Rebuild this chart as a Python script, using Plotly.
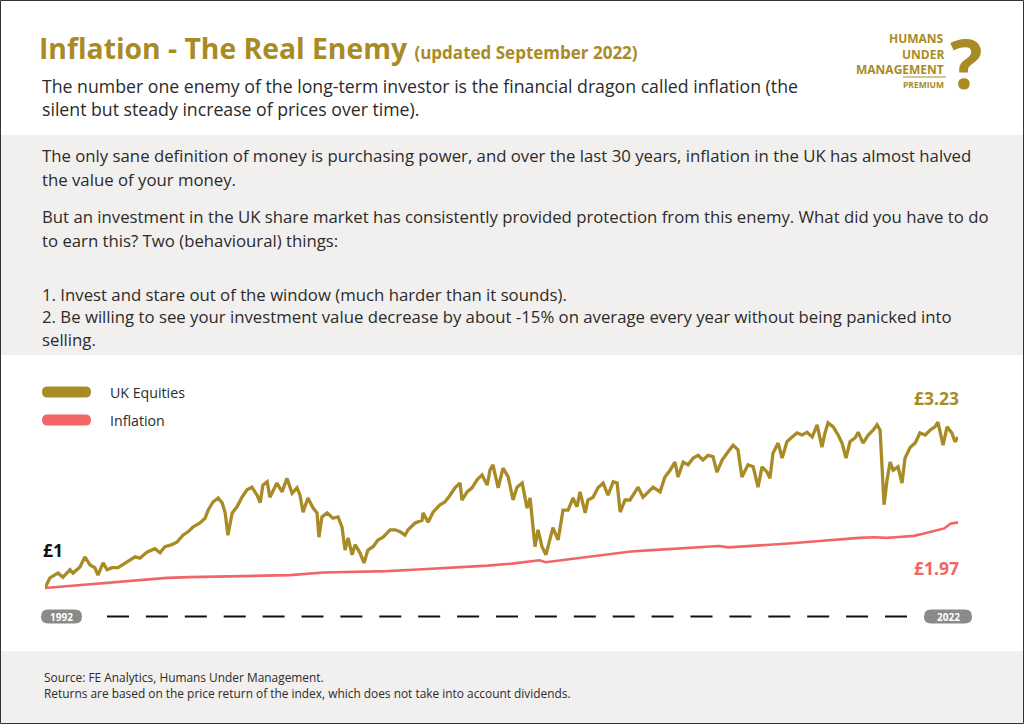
import plotly.graph_objects as go

# ---------------- DATA ----------------
eq_year = [1992.75, 1992.91, 1993.18, 1993.34, 1993.57, 1993.67, 1993.90, 1994.06, 1994.23, 1994.39,
           1994.49, 1994.66, 1994.79, 1994.95, 1995.15, 1995.44, 1995.71, 1995.87, 1996.10, 1996.36,
           1996.53, 1996.69, 1996.92, 1997.09, 1997.28, 1997.45, 1997.61, 1997.84, 1998.01, 1998.11,
           1998.27, 1998.44, 1998.57, 1998.67, 1998.76, 1998.90, 1999.06, 1999.22, 1999.39, 1999.55,
           1999.72, 1999.82, 1999.91, 2000.05, 2000.14, 2000.37, 2000.54, 2000.70, 2000.87, 2001.03,
           2001.13, 2001.23, 2001.39, 2001.56, 2001.69, 2001.75, 2001.85, 2002.02, 2002.21, 2002.38,
           2002.51, 2002.61, 2002.71, 2002.84, 2002.94, 2003.10, 2003.23, 2003.36, 2003.53, 2003.69,
           2003.86, 2004.09, 2004.25, 2004.42, 2004.58, 2004.68, 2004.91, 2005.14, 2005.17, 2005.34,
           2005.50, 2005.73, 2005.89, 2006.06, 2006.22, 2006.39, 2006.45, 2006.62, 2006.78, 2006.95,
           2007.11, 2007.28, 2007.37, 2007.47, 2007.64, 2007.80, 2007.97, 2008.13, 2008.26, 2008.43,
           2008.59, 2008.69, 2008.85, 2008.95, 2009.08, 2009.21, 2009.35, 2009.44, 2009.61, 2009.77,
           2009.94, 2010.10, 2010.23, 2010.33, 2010.50, 2010.59, 2010.76, 2010.92, 2011.09, 2011.25,
           2011.42, 2011.55, 2011.65, 2011.81, 2011.97, 2012.24, 2012.40, 2012.57, 2012.73, 2012.96,
           2013.12, 2013.29, 2013.45, 2013.55, 2013.72, 2013.88, 2014.05, 2014.21, 2014.37, 2014.54,
           2014.70, 2014.83, 2015.00, 2015.19, 2015.36, 2015.52, 2015.65, 2015.85, 2016.02, 2016.18,
           2016.31, 2016.48, 2016.57, 2016.67, 2016.84, 2016.97, 2017.13, 2017.30, 2017.46, 2017.63,
           2017.79, 2017.96, 2018.12, 2018.28, 2018.38, 2018.48, 2018.65, 2018.81, 2018.94, 2019.07,
           2019.20, 2019.37, 2019.47, 2019.63, 2019.80, 2019.96, 2020.09, 2020.19, 2020.32, 2020.42,
           2020.52, 2020.62, 2020.78, 2020.91, 2021.01, 2021.18, 2021.34, 2021.50, 2021.67, 2021.83,
           2021.99, 2022.09, 2022.26, 2022.39, 2022.55, 2022.65, 2022.75]
uk_equities = [1.00, 1.15, 1.22, 1.16, 1.27, 1.22, 1.31, 1.46, 1.34, 1.30,
               1.19, 1.37, 1.27, 1.30, 1.30, 1.38, 1.46, 1.44, 1.53, 1.58,
               1.52, 1.61, 1.64, 1.68, 1.78, 1.83, 1.90, 1.96, 2.03, 2.15,
               2.27, 2.33, 2.26, 2.11, 1.78, 2.11, 2.20, 2.34, 2.45, 2.49,
               2.37, 2.26, 2.52, 2.57, 2.34, 2.55, 2.42, 2.62, 2.40, 2.48,
               2.37, 2.12, 2.33, 2.18, 2.11, 1.75, 2.05, 2.11, 2.03, 2.05,
               1.90, 1.56, 1.74, 1.49, 1.64, 1.52, 1.37, 1.56, 1.61, 1.71,
               1.75, 1.86, 1.86, 1.83, 1.78, 1.86, 1.96, 2.00, 2.11, 1.97,
               2.12, 2.23, 2.27, 2.37, 2.48, 2.55, 2.30, 2.42, 2.48, 2.60,
               2.67, 2.52, 2.74, 2.82, 2.48, 2.77, 2.64, 2.30, 2.49, 2.55,
               2.18, 2.33, 1.61, 1.86, 1.61, 1.49, 1.71, 1.89, 1.71, 2.15,
               2.15, 2.33, 2.20, 2.42, 2.11, 2.30, 2.34, 2.48, 2.55, 2.37,
               2.57, 2.55, 2.12, 2.30, 2.30, 2.49, 2.34, 2.42, 2.49, 2.42,
               2.64, 2.74, 2.86, 2.64, 2.86, 2.82, 2.92, 2.96, 2.89, 2.96,
               2.94, 2.71, 2.89, 3.01, 3.11, 3.04, 2.64, 2.82, 2.79, 2.49,
               2.79, 2.71, 2.62, 2.99, 3.14, 2.92, 3.16, 3.23, 3.29, 3.26,
               3.30, 3.23, 3.41, 3.08, 3.29, 3.44, 3.38, 3.26, 3.14, 2.92,
               3.16, 3.22, 3.30, 3.14, 3.26, 3.33, 3.41, 3.33, 2.23, 2.60,
               2.86, 2.74, 2.79, 2.55, 2.92, 3.08, 3.14, 3.29, 3.26, 3.33,
               3.38, 3.45, 3.11, 3.38, 3.29, 3.16, 3.23]

inf_year = [1992.75, 1993.5, 1994.5, 1995.12, 1996.0, 1996.76, 1997.5, 1998.5, 1999.5, 2000.8,
            2001.9, 2003.2, 2004.0, 2004.85, 2005.7, 2006.5, 2007.3, 2008.1, 2008.7, 2009.0,
            2009.2, 2009.9, 2010.6, 2011.4, 2012.0, 2012.7, 2013.85, 2014.9, 2015.2, 2015.9,
            2016.6, 2017.3, 2018.1, 2018.9, 2019.5, 2020.0, 2020.4, 2020.7, 2021.3, 2021.6,
            2021.9, 2022.3, 2022.5, 2022.75]
inflation = [1.00, 1.03, 1.06, 1.09, 1.12, 1.15, 1.16, 1.17, 1.18, 1.19,
             1.23, 1.24, 1.25, 1.27, 1.29, 1.31, 1.33, 1.36, 1.40, 1.41,
             1.38, 1.42, 1.46, 1.51, 1.54, 1.56, 1.59, 1.62, 1.60, 1.62,
             1.63, 1.66, 1.69, 1.72, 1.74, 1.75, 1.74, 1.75, 1.77, 1.80,
             1.83, 1.88, 1.95, 1.97]

series_names = ["UK Equities", "Inflation"]
start_label = "£1"
end_equity_label = "£3.23"
end_inflation_label = "£1.97"
year_labels = ["1992", "2022"]

# ---------------- STYLE ----------------
GOLD = "#A98B26"
RED = "#F26565"
GREY_BG = "#F1F0EE"
TXT = "#2b2b2b"
FONT = "Open Sans"

W, H = 1024, 724
L, R, T, B = 45, 958, 360, 600   # plot area in pixels


def px(x):
    return (x - L) / (R - L)


def py(y):
    return (B - y) / (B - T)


fig = go.Figure()
fig.add_trace(go.Scatter(x=inf_year, y=inflation, mode="lines", name=series_names[1],
                         line=dict(color=RED, width=2.6), hoverinfo="skip"))
fig.add_trace(go.Scatter(x=eq_year, y=uk_equities, mode="lines", name=series_names[0],
                         line=dict(color=GOLD, width=3.3), hoverinfo="skip"))

shapes = []
# background bands
shapes.append(dict(type="rect", xref="paper", yref="paper", x0=px(0), x1=px(W), y0=py(135), y1=py(355),
                   fillcolor=GREY_BG, line=dict(width=0), layer="below"))
shapes.append(dict(type="rect", xref="paper", yref="paper", x0=px(0), x1=px(W), y0=py(651), y1=py(H),
                   fillcolor=GREY_BG, line=dict(width=0), layer="below"))
# outer border
shapes.append(dict(type="rect", xref="paper", yref="paper", x0=px(0.5), x1=px(W - 0.5), y0=py(0.5), y1=py(H - 0.5),
                   line=dict(color="#333333", width=1), layer="above"))


def pill(x0, x1, yc, h, color):
    r = h / 2.0
    yt, yb = yc - r, yc + r
    pts = [("M", (x0 + r, yt)), ("L", (x1 - r, yt)), ("Q", (x1, yt), (x1, yc)), ("Q", (x1, yb), (x1 - r, yb)),
           ("L", (x0 + r, yb)), ("Q", (x0, yb), (x0, yc)), ("Q", (x0, yt), (x0 + r, yt))]
    path = ""
    for seg in pts:
        cmd = seg[0]
        coords = " ".join(f"{px(p[0]):.5f},{py(p[1]):.5f}" for p in seg[1:])
        path += f"{cmd}{coords} "
    path += "Z"
    return dict(type="path", xref="paper", yref="paper", path=path, fillcolor=color,
                line=dict(width=0), layer="above")


# legend pills
shapes.append(pill(42, 91, 392, 11, GOLD))
shapes.append(pill(42, 91, 420, 11, RED))
# year pills
shapes.append(pill(41, 82, 616.5, 14, "#8a8a8a"))
shapes.append(pill(924, 972, 616.5, 14, "#8a8a8a"))
# dashed time line
shapes.append(dict(type="line", xref="paper", yref="paper", x0=px(107), x1=px(907.5), y0=py(616.5), y1=py(616.5),
                   line=dict(color="#111111", width=2, dash="22px,16.9px")))
# logo underline
shapes.append(dict(type="line", xref="paper", yref="paper", x0=px(903), x1=px(946), y0=py(77), y1=py(77),
                   line=dict(color=GOLD, width=1)))

ann = []


def text(x, y, s, size, color=TXT, bold=False, anchor="left", family=FONT):
    ann.append(dict(xref="paper", yref="paper", x=px(x), y=py(y), text=(f"<b>{s}</b>" if bold else s),
                    showarrow=False, xanchor=anchor, yanchor="middle",
                    font=dict(family=family, size=size, color=color)))


# title
ann.append(dict(xref="paper", yref="paper", x=px(37), y=py(48), xanchor="left", yanchor="middle", showarrow=False,
                text="<b>Inflation - The Real Enemy</b> <b><span style='font-size:17px'>(updated September 2022)</span></b>",
                font=dict(family=FONT, size=28.3, color=GOLD)))
text(40, 86, "The number one enemy of the long-term investor is the financial dragon called inflation (the", 17.7)
text(40, 109, "silent but steady increase of prices over time).", 17.7)

# grey band text
band_lines = [
    (156, "The only sane definition of money is purchasing power, and over the last 30 years, inflation in the UK has almost halved"),
    (179, "the value of your money."),
    (217, "But an investment in the UK share market has consistently provided protection from this enemy. What did you have to do"),
    (240, "to earn this? Two (behavioural) things:"),
    (294, "1. Invest and stare out of the window (much harder than it sounds)."),
    (316, "2. Be willing to see your investment value decrease by about -15% on average every year without being panicked into"),
    (339, "selling."),
]
for y, s in band_lines:
    text(40, y, s, 16.75)

# logo
text(946, 38, "HUMANS", 12, GOLD, True, "right")
text(946, 54, "UNDER", 12, GOLD, True, "right")
text(946, 69, "MANAGEMENT", 12, GOLD, True, "right")
text(946, 84, "PREMIUM", 8.5, GOLD, True, "right")
text(966, 62, "?", 68, GOLD, True, "center", "Open Sans")

# legend text
text(108, 392, series_names[0], 14.2)
text(108, 420, series_names[1], 14.2)

# value labels
text(961, 398, end_equity_label, 17.5, GOLD, True, "right")
text(41, 550, start_label, 17.5, "#111111", True, "left")
text(961, 568, end_inflation_label, 17.5, RED, True, "right")

# year pill labels
text(61.5, 617, year_labels[0], 10, "white", True, "center")
text(948, 617, year_labels[1], 10, "white", True, "center")

# footer
text(42, 677, "Source: FE Analytics, Humans Under Management.", 11.9)
text(42, 693, "Returns are based on the price return of the index, which does not take into account dividends.", 11.9)

y_lo = 1 - (B - 588) / 67.7
y_hi = 1 + (588 - T) / 67.7

fig.update_layout(
    width=W, height=H, autosize=False,
    margin=dict(l=L, r=W - R, t=T, b=H - B, pad=0),
    paper_bgcolor="white", plot_bgcolor="rgba(0,0,0,0)",
    showlegend=False,
    xaxis=dict(range=[1992.75, 2022.75], visible=False, fixedrange=True),
    yaxis=dict(range=[y_lo, y_hi], visible=False, fixedrange=True),
    shapes=shapes, annotations=ann,
    font=dict(family=FONT),
)

fig.write_html("out.html", config={"displayModeBar": False},
               post_script="document.body.style.margin='0px';document.body.style.padding='0px';")
